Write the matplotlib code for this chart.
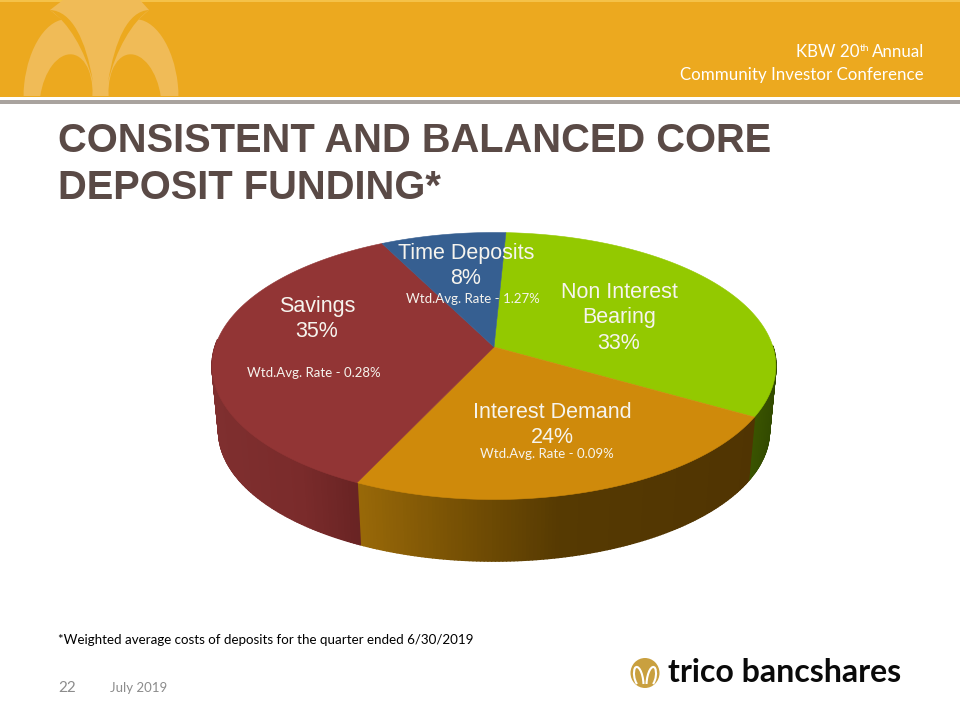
import numpy as np
import matplotlib
matplotlib.use('Agg')
import matplotlib.pyplot as plt
from matplotlib.collections import PolyCollection
from matplotlib.patches import Ellipse, PathPatch, Polygon, Rectangle
from matplotlib.path import Path

# Deposit mix, share (labels show them rounded)
categories = ['Non Interest\nBearing', 'Interest Demand', 'Savings', 'Time Deposits']
shares = [32.51, 23.75, 35.49, 8.25]
rates = [None, 'Wtd.Avg. Rate - 0.09%', 'Wtd.Avg. Rate - 0.28%', 'Wtd.Avg. Rate - 1.27%']
top_colors = ['#93C900', '#CF8A0B', '#923535', '#365F91']

BANNER = '#ECA91F'
PALE = '#F0BB57'
TITLE_COLOR = '#5A4A46'
GOLD = '#C9A03F'
LABEL = '#F6F4EE'

# perspective of the pie disc
START_ANGLE = 87.2
K = 0.142


def rim(phi, rx, ry, cx, cy):
    phi = np.radians(phi)
    d = 1 + K * np.sin(phi)
    x = cx + rx * np.cos(phi) / d
    y = cy - (ry * np.sin(phi) + K * ry) / d
    return x, y


def top_rim(phi):
    return rim(phi, 279, 133.5, 494, 366)


def bottom_rim(phi):
    return rim(phi, 272.5, 130, 494, 431)


def side_color(slice_idx, x):
    # shading stops of the pie wall, left to right
    stops = {
        0: ([750, 775], [(60, 86, 0), (50, 74, 0)]),
        1: ([360, 470, 560, 760], [(152, 104, 8), (115, 78, 4), (86, 58, 2), (80, 52, 2)]),
        2: ([212, 300, 360], [(127, 47, 47), (122, 43, 43), (104, 35, 35)]),
        3: ([0, 960], [(35, 60, 95), (35, 60, 95)]),
    }
    xs, cols = stops[slice_idx]
    cols = np.array(cols) / 255
    return tuple(np.interp(x, xs, cols[:, i]) for i in range(3))


def draw_pie(ax):
    spans = np.array(shares) / sum(shares) * 360
    edges = START_ANGLE - np.concatenate([[0], np.cumsum(spans)])

    # walls first
    for i in range(len(shares)):
        polys, colors = [], []
        n = max(2, int(abs(spans[i]) * 1.5))
        phis = np.linspace(edges[i], edges[i + 1], n)
        for a, b in zip(phis[:-1], phis[1:]):
            if not any(-183 <= p % 360 - 360 <= 3 for p in (a, b)):
                continue
            x1, y1 = top_rim(a)
            x2, y2 = top_rim(b)
            x3, y3 = bottom_rim(b)
            x4, y4 = bottom_rim(a)
            polys.append([(x1, y1), (x2, y2), (x3, y3), (x4, y4)])
            colors.append(side_color(i, (x1 + x2) / 2))
        if polys:
            ax.add_collection(PolyCollection(polys, facecolors=colors, edgecolors=colors, linewidths=1.2))

    # top face
    apex = 494, 366 - K * 133.5
    for i, c in enumerate(top_colors):
        phis = np.linspace(edges[i], edges[i + 1], 150)
        x, y = top_rim(phis)
        pts = [apex] + list(zip(x, y))
        ax.add_patch(Polygon(pts, closed=True, facecolor=c, edgecolor=c, linewidth=0.4))


def draw_mark(ax):
    # pale flame watermark in the banner
    clip = Rectangle((0, 0), 300, 96, transform=ax.transData)
    for x0, ang in [(61, 6), (141, -6)]:
        e = Ellipse((x0, 88), 74, 138, angle=ang, facecolor=PALE, edgecolor='none', zorder=2)
        ax.add_patch(e)
        e.set_clip_path(clip)
    stem = [(63, 0), (140, 0), (149, 10), (138, 20), (120, 96), (80, 96), (62, 20), (50, 10)]
    ax.add_patch(Polygon(stem, closed=True, facecolor=PALE, edgecolor='none', zorder=3))
    # crescents
    codes = [Path.MOVETO] + [Path.CURVE4] * 6
    left = Path([(50, 10), (72, 11), (86, 40), (93, 82), (85, 50), (68, 22), (50, 10)], codes)
    right = Path([(149, 10), (128, 11), (115, 40), (108, 82), (116, 50), (132, 22), (149, 10)], codes)
    ax.add_patch(PathPatch(left, facecolor=BANNER, edgecolor='none', zorder=4))
    ax.add_patch(PathPatch(right, facecolor=BANNER, edgecolor='none', zorder=4))
    for x0, ang in [(66, 8), (135, -8)]:
        e = Ellipse((x0, 100), 52, 92, angle=ang, facecolor=BANNER, edgecolor='none', zorder=4)
        ax.add_patch(e)
        e.set_clip_path(clip)


def draw_logo(ax):
    ax.add_patch(Ellipse((645, 673), 29, 30, facecolor=GOLD, edgecolor='none'))
    for sign in (-1, 1):
        arch = Path([(645 + sign * 1.5, 684), (645 + sign * 2, 672), (645 + sign * 7, 664), (645 + sign * 10, 668),
                     (645 + sign * 12, 672), (645 + sign * 11, 680), (645 + sign * 8, 684)],
                    [Path.MOVETO] + [Path.CURVE4] * 6)
        ax.add_patch(PathPatch(arch, facecolor='none', edgecolor='white', linewidth=1.5))


fig = plt.figure(figsize=(9.6, 7.2), dpi=100)
ax = fig.add_axes([0, 0, 1, 1])
ax.set_xlim(0, 960)
ax.set_ylim(720, 0)
ax.axis('off')

# header
ax.add_patch(Rectangle((0, 0), 960, 96.5, facecolor=BANNER, edgecolor='none'))
ax.add_patch(Rectangle((0, 0), 960, 1.5, facecolor='#F5C248', edgecolor='none'))
ax.add_patch(Rectangle((0, 100), 960, 3.5, facecolor='#A9A39E', edgecolor='none'))
draw_mark(ax)

hdr = dict(family='Lato', color='white', fontsize=12.15, va='baseline')
ax.text(924, 57, 'Annual', ha='right', **hdr)
ax.text(860, 51, 'th', ha='left', family='Lato', color='white', fontsize=7.5, va='baseline')
ax.text(859, 57, 'KBW 20', ha='right', **hdr)
ax.text(924, 80, 'Community Investor Conference', ha='right', **hdr)

title = dict(family='Liberation Sans', weight='bold', color=TITLE_COLOR, fontsize=28.7, va='baseline')
ax.text(58, 152, 'CONSISTENT AND BALANCED CORE', **title)
ax.text(58, 199, 'DEPOSIT FUNDING*', **title)

draw_pie(ax)

# labels: name centre, rate centre
name_pos = [(619, 318), (552, 425), (317, 319), (466, 266)]
rate_pos = [None, (547, 454), (314, 373), (473, 299)]
for name, share, rate, np_, rp in zip(categories, shares, rates, name_pos, rate_pos):
    ax.text(np_[0], np_[1], f'{name}\n{share:.0f}%', family='Liberation Sans', color=LABEL, fontsize=15.5,
            ha='center', va='center', linespacing=1.27, zorder=6)
    if rate:
        ax.text(rp[0], rp[1], rate, family='Lato', color=LABEL, fontsize=9.5, ha='center', va='center', zorder=6)

# footer
ax.text(58, 640, '*Weighted average costs of deposits for the quarter ended 6/30/2019',
        family='Lato', color='black', fontsize=9.63, va='center')
ax.text(58, 688, '22', family='Lato', color='#8C8C8C', fontsize=11, va='center')
ax.text(110, 688, 'July 2019', family='Lato', color='#8C8C8C', fontsize=9.5, va='center')
draw_logo(ax)
ax.text(668, 672, 'trico bancshares', family='Lato', weight='bold', color='#0A0A0A', fontsize=23,
        va='center', ha='left')

fig.savefig('out.png', dpi=100)
